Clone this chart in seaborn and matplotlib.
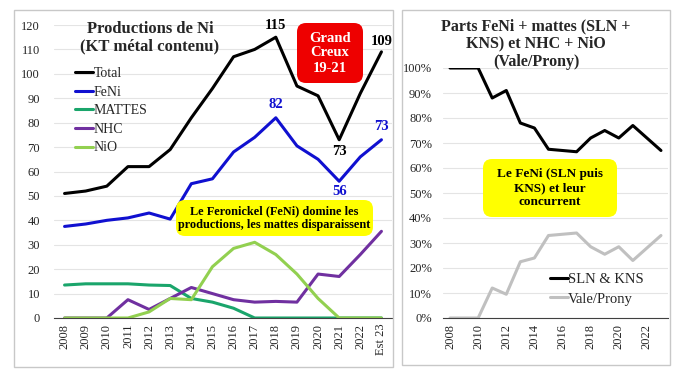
import matplotlib
matplotlib.use("Agg")
import matplotlib.pyplot as plt
import pandas as pd
import numpy as np
import seaborn as sns
from matplotlib.patches import Rectangle, FancyBboxPatch

years = ["2008", "2009", "2010", "2011", "2012", "2013", "2014", "2015",
         "2016", "2017", "2018", "2019", "2020", "2021", "2022", "Est 23"]

total = [51, 52, 54, 62, 62, 69, 82, 94, 107, 110, 115, 95, 91, 73, 92, 109]
feni = [37.5, 38.5, 40, 41, 43, 40.5, 55, 57, 68, 74, 82, 70.5, 65, 56, 66, 73]
mattes = [13.5, 14, 14, 14, 13.5, 13.3, 8, 6.5, 4, 0, 0, 0, 0, 0, 0, 0]
nhc = [0, 0, 0, 7.5, 3.5, 8, 12.5, 10, 7.5, 6.5, 6.8, 6.5, 18, 17, 26, 35.5]
nio = [0, 0, 0, 0, 2.5, 8, 7.5, 21, 28.5, 31, 26, 18, 8, 0, 0, 0]

share_sln = [100, 100, 100, 88, 91, 78, 76, 67.5, 67, 66.5, 72, 75, 72, 77, 72, 67]
share_vale = [0, 0, 0, 12, 9.5, 22.5, 24, 33, 33.5, 34, 28.5, 25.5, 28.5, 23, 28, 33]
right_labels = ["2008", "", "2010", "", "2012", "", "2014", "", "2016", "",
                "2018", "", "2020", "", "2022", ""]

prod = pd.DataFrame({"Total": total, "FeNi": feni, "MATTES": mattes,
                     "NHC": nhc, "NiO": nio})
prod["idx"] = np.arange(len(years))
prod_long = prod.melt(id_vars="idx", var_name="serie", value_name="kt")

shares = pd.DataFrame({"SLN & KNS": share_sln, "Vale/Prony": share_vale})
shares["idx"] = np.arange(len(years))
shares_long = shares.melt(id_vars="idx", var_name="serie", value_name="pct")

pal_left = {"Total": "#000000", "FeNi": "#1010d0", "MATTES": "#1aa56b",
            "NHC": "#7030a0", "NiO": "#92d050"}
pal_right = {"SLN & KNS": "#000000", "Vale/Prony": "#c0c0c0"}

sns.set_style("white")
plt.rcParams["font.family"] = ["Liberation Serif", "DejaVu Serif"]

W, H = 684, 385
fig = plt.figure(figsize=(W / 100, H / 100), dpi=100)

def fx(px):
    return px / W

def fy(py):
    return 1 - py / H

# panel frames
for (x0, y0, x1, y1) in [(14, 10, 393, 367), (402, 10, 670, 365)]:
    fig.patches.append(Rectangle((fx(x0), fy(y1)), fx(x1 - x0), (y1 - y0) / H,
                                 transform=fig.transFigure, fill=False,
                                 edgecolor="#c8c8c8", linewidth=1.0))

def callout(x0, y0, x1, y1, color, text, txt_color, size, spacing):
    # box given in pixels from the top-left corner, drawn in inches
    tr = fig.dpi_scale_trans
    box = FancyBboxPatch((x0 / 100, (H - y1) / 100), (x1 - x0) / 100, (y1 - y0) / 100,
                         boxstyle="round,pad=0,rounding_size=0.09", transform=tr,
                         facecolor=color, edgecolor="none", zorder=5)
    fig.patches.append(box)
    fig.text(fx((x0 + x1) / 2), fy((y0 + y1) / 2), text, ha="center", va="center",
             fontsize=size, fontweight="bold", color=txt_color, linespacing=spacing,
             zorder=6)

# ---------- left chart
ax = fig.add_axes([fx(54), fy(318), fx(392 - 54), (318 - 25) / H])
sns.lineplot(data=prod_long, x="idx", y="kt", hue="serie", palette=pal_left,
             linewidth=2.2, ax=ax, legend=True)
ax.set_xlim(-0.5, len(years) - 0.5)
ax.set_ylim(0, 120)
ax.set_yticks(np.arange(0, 121, 10))
ax.set_xticks(np.arange(len(years)))
ax.set_xticklabels(years, rotation=90, fontsize=9)
ax.set_xticks(np.arange(-0.5, len(years), 1), minor=True)
ax.tick_params(axis="x", which="major", length=0, pad=4)
ax.tick_params(axis="x", which="minor", length=4, color="#404040", direction="out")
ax.tick_params(axis="y", length=0, labelsize=9, pad=10)
ax.grid(axis="y", color="#e4e4e4", linewidth=0.8)
ax.set_axisbelow(True)
for s in ["left", "right", "top"]:
    ax.spines[s].set_visible(False)
ax.spines["bottom"].set_color("#404040")
ax.set_xlabel("")
ax.set_ylabel("")
leg = ax.legend(loc="upper left", bbox_to_anchor=(0.045, 0.875), frameon=False,
                fontsize=10, handlelength=1.3, handletextpad=0.05, labelspacing=0.4,
                borderaxespad=0)
for line in leg.get_lines():
    line.set_linewidth(2.2)

fig.text(fx(150), fy(21), "Productions de Ni\n(KT métal contenu)",
         ha="center", va="top", fontsize=12, fontweight="bold", linespacing=1.1)

def lab(a, i, vals, txt_color, dy, va):
    a.annotate(f"{vals[i]:.0f}", (i, vals[i]), xytext=(0, dy), textcoords="offset points",
               ha="center", va=va, fontsize=10.5, fontweight="bold", color=txt_color)

lab(ax, 10, total, "black", 4, "bottom")
lab(ax, 15, total, "black", 3, "bottom")
lab(ax, 13, total, "black", -4, "top")
lab(ax, 10, feni, "#1010d0", 5, "bottom")
lab(ax, 15, feni, "#1010d0", 5, "bottom")
lab(ax, 13, feni, "#1010d0", -3, "top")

callout(297, 23, 363, 83, "#ee0000", "Grand\nCreux\n19-21", "white", 10.5, 1.2)
callout(176, 200, 373, 236, "#ffff00",
        "Le Feronickel (FeNi) domine les\nproductions, les mattes disparaissent",
        "black", 8.8, 1.15)

# ---------- right chart
ax2 = fig.add_axes([fx(443), fy(318), fx(668 - 443), (318 - 68) / H])
sns.lineplot(data=shares_long, x="idx", y="pct", hue="serie", palette=pal_right,
             linewidth=2.2, ax=ax2, legend=True)
ax2.set_xlim(-0.5, len(years) - 0.5)
ax2.set_ylim(0, 100)
ax2.set_yticks(np.arange(0, 101, 10))
ax2.set_yticklabels([f"{v}%" for v in range(0, 101, 10)])
ax2.set_xticks(np.arange(len(years)))
ax2.set_xticklabels(right_labels, rotation=90, fontsize=9)
ax2.set_xticks(np.arange(-0.5, len(years), 1), minor=True)
ax2.tick_params(axis="x", which="major", length=0, pad=4)
ax2.tick_params(axis="x", which="minor", length=4, color="#404040", direction="out")
ax2.tick_params(axis="y", length=0, labelsize=9, pad=8)
ax2.grid(axis="y", color="#e4e4e4", linewidth=0.8)
ax2.set_axisbelow(True)
for s in ["left", "right", "top"]:
    ax2.spines[s].set_visible(False)
ax2.spines["bottom"].set_color("#404040")
ax2.set_xlabel("")
ax2.set_ylabel("")
leg2 = ax2.legend(loc="upper left", bbox_to_anchor=(0.45, 0.205), frameon=False,
                  fontsize=10.5, handlelength=1.2, handletextpad=0.05, labelspacing=0.45,
                  borderaxespad=0)
for line in leg2.get_lines():
    line.set_linewidth(2.2)

fig.text(fx(536), fy(18), "Parts FeNi + mattes (SLN +\nKNS) et NHC + NiO\n(Vale/Prony)",
         ha="center", va="top", fontsize=11.5, fontweight="bold", linespacing=1.15)
callout(483, 159, 617, 217, "#ffff00", "Le FeNi (SLN puis\nKNS) et leur\nconcurrent",
        "black", 9.5, 1.2)

fig.savefig("out.png", dpi=100, facecolor="white")
